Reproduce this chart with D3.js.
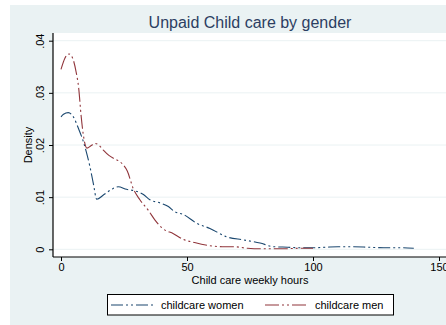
<!DOCTYPE html>
<html>
<head>
<meta charset="utf-8">
<script src="https://cdn.jsdelivr.net/npm/d3@7"></script>
<style>
  html, body { margin: 0; padding: 0; background: #ffffff; }
  svg { display: block; }
  text { font-family: "Liberation Sans", Arial, Helvetica, sans-serif; }
</style>
</head>
<body>
<svg id="chart" width="446" height="325"></svg>
<script>
// Kernel density estimates of weekly unpaid childcare hours, by gender
const womenHours = [0, 1, 2.9, 4.9, 6.9, 8.9, 10.2, 11.5, 12.8, 14.2, 16.8, 20.1, 22.7, 26, 29.4, 32.7, 35.3, 39.3, 42.6, 45.2, 48.5, 53.8, 59.1, 65.7, 72.4, 79, 84.3, 90, 95, 100, 105, 110, 116, 122, 128, 134, 140];
const womenDensity = [0.0254, 0.0259, 0.0262, 0.0254, 0.0232, 0.0206, 0.0184, 0.0158, 0.0127, 0.0096, 0.0104, 0.0115, 0.0120, 0.0115, 0.0112, 0.0105, 0.0095, 0.0089, 0.0082, 0.0072, 0.0067, 0.0050, 0.0040, 0.0024, 0.0018, 0.0012, 0.0005, 0.0004, 0.0003, 0.0003, 0.0004, 0.0005, 0.0005, 0.0004, 0.0003, 0.0003, 0.0002];

const menHours = [0, 1.5, 3.2, 4.5, 6, 7, 8, 9, 10.3, 12, 13.5, 15, 16.8, 19, 20.8, 22.7, 24.5, 26.3, 28.7, 31.3, 34.6, 37.3, 40.6, 44.6, 48.5, 53, 59, 64, 68.4, 74, 79, 88, 95, 100];
const menDensity = [0.0345, 0.0366, 0.03745, 0.0368, 0.0340, 0.0310, 0.0255, 0.0215, 0.0194, 0.0199, 0.0203, 0.0200, 0.0190, 0.0180, 0.01745, 0.0170, 0.0163, 0.0150, 0.0116, 0.0095, 0.0075, 0.0056, 0.0039, 0.0030, 0.0019, 0.0013, 0.0007, 0.0005, 0.0005, 0.0002, 0.0001, 0.0001, 0.0002, 0.0002];

const xTicks = [0, 50, 100, 150];
const yTicks = [0, 0.01, 0.02, 0.03, 0.04];
const yTickLabels = ["0", ".01", ".02", ".03", ".04"];
const seriesNames = ["childcare women", "childcare men"];

const svg = d3.select("#chart");
const W = 446, H = 325;

const colors = { women: "#1a476f", men: "#90353b" };
const dashes = { women: "12,3,2,3,2,3", men: "14,3,2,3,2,3" };

// graph region background
svg.append("rect").attr("x", 10).attr("y", 5).attr("width", W - 10).attr("height", H - 5)
  .attr("fill", "#eaf2f3");

// plot region
const plot = { left: 53, right: 447, top: 33, bottom: 257 };
svg.append("rect").attr("x", plot.left).attr("y", plot.top)
  .attr("width", plot.right - plot.left).attr("height", plot.bottom - plot.top)
  .attr("fill", "#ffffff");

const x = d3.scaleLinear().domain([0, 150]).range([61, 439]);
const y = d3.scaleLinear().domain([0, 0.04]).range([249.3, 40.7]);

// horizontal grid lines
svg.append("g").selectAll("line").data(yTicks).join("line")
  .attr("x1", plot.left).attr("x2", plot.right)
  .attr("y1", d => y(d)).attr("y2", d => y(d))
  .attr("stroke", "#eaf2f3").attr("stroke-width", 1);

// title
svg.append("text").attr("x", 250).attr("y", 28).attr("text-anchor", "middle")
  .attr("font-size", 16).attr("fill", "#2c3e62").text("Unpaid Child care by gender");

// density curves
const line = d3.line().x(d => x(d[0])).y(d => y(d[1])).curve(d3.curveMonotoneX);
svg.append("path").datum(d3.zip(womenHours, womenDensity))
  .attr("d", line).attr("fill", "none").attr("stroke", colors.women)
  .attr("stroke-width", 1.1).attr("stroke-dasharray", dashes.women);
svg.append("path").datum(d3.zip(menHours, menDensity))
  .attr("d", line).attr("fill", "none").attr("stroke", colors.men)
  .attr("stroke-width", 1.1).attr("stroke-dasharray", dashes.men);

// y axis
const yAxis = svg.append("g").attr("transform", `translate(${plot.left},0)`)
  .call(d3.axisLeft(y).tickValues(yTicks).tickSize(4).tickPadding(0)
    .tickFormat((d, i) => yTickLabels[i]));
yAxis.select(".domain").attr("d", `M0,${plot.top}V${plot.bottom}`).attr("stroke", "#000").attr("stroke-width", 1.2);
yAxis.selectAll(".tick line").attr("stroke", "#000");
yAxis.selectAll(".tick text")
  .attr("transform", "rotate(-90)")
  .attr("x", 0).attr("y", -9).attr("dy", 0)
  .attr("text-anchor", "middle")
  .attr("font-size", 11).attr("font-family", "Liberation Sans, Arial, sans-serif").attr("fill", "#000");

svg.append("text").attr("transform", `translate(32,145) rotate(-90)`)
  .attr("text-anchor", "middle").attr("font-size", 11).attr("fill", "#000").text("Density");

// x axis
const xAxis = svg.append("g").attr("transform", `translate(0,${plot.bottom})`)
  .call(d3.axisBottom(x).tickValues(xTicks).tickSize(4).tickPadding(2).tickFormat(d3.format("d")));
xAxis.select(".domain").attr("d", `M${plot.left},0H${W}`).attr("stroke", "#000").attr("stroke-width", 1.2);
xAxis.selectAll(".tick line").attr("stroke", "#000");
xAxis.selectAll(".tick text").attr("font-size", 11)
  .attr("font-family", "Liberation Sans, Arial, sans-serif").attr("fill", "#000");

svg.append("text").attr("x", 250).attr("y", 284).attr("text-anchor", "middle")
  .attr("font-size", 11).attr("fill", "#000").text("Child care weekly hours");

// legend
const legend = svg.append("g");
legend.append("rect").attr("x", 107.5).attr("y", 294.5).attr("width", 286).attr("height", 20.5)
  .attr("fill", "#ffffff").attr("stroke", "#000").attr("stroke-width", 1);
const items = [
  { key: "women", x0: 111, text: seriesNames[0] },
  { key: "men", x0: 265, text: seriesNames[1] }
];
items.forEach(it => {
  legend.append("line").attr("x1", it.x0).attr("x2", it.x0 + 43)
    .attr("y1", 305).attr("y2", 305)
    .attr("stroke", colors[it.key]).attr("stroke-width", 1.1)
    .attr("stroke-dasharray", dashes[it.key]);
  legend.append("text").attr("x", it.x0 + 50).attr("y", 309)
    .attr("font-size", 11).attr("fill", "#000").text(it.text);
});
</script>
</body>
</html>
